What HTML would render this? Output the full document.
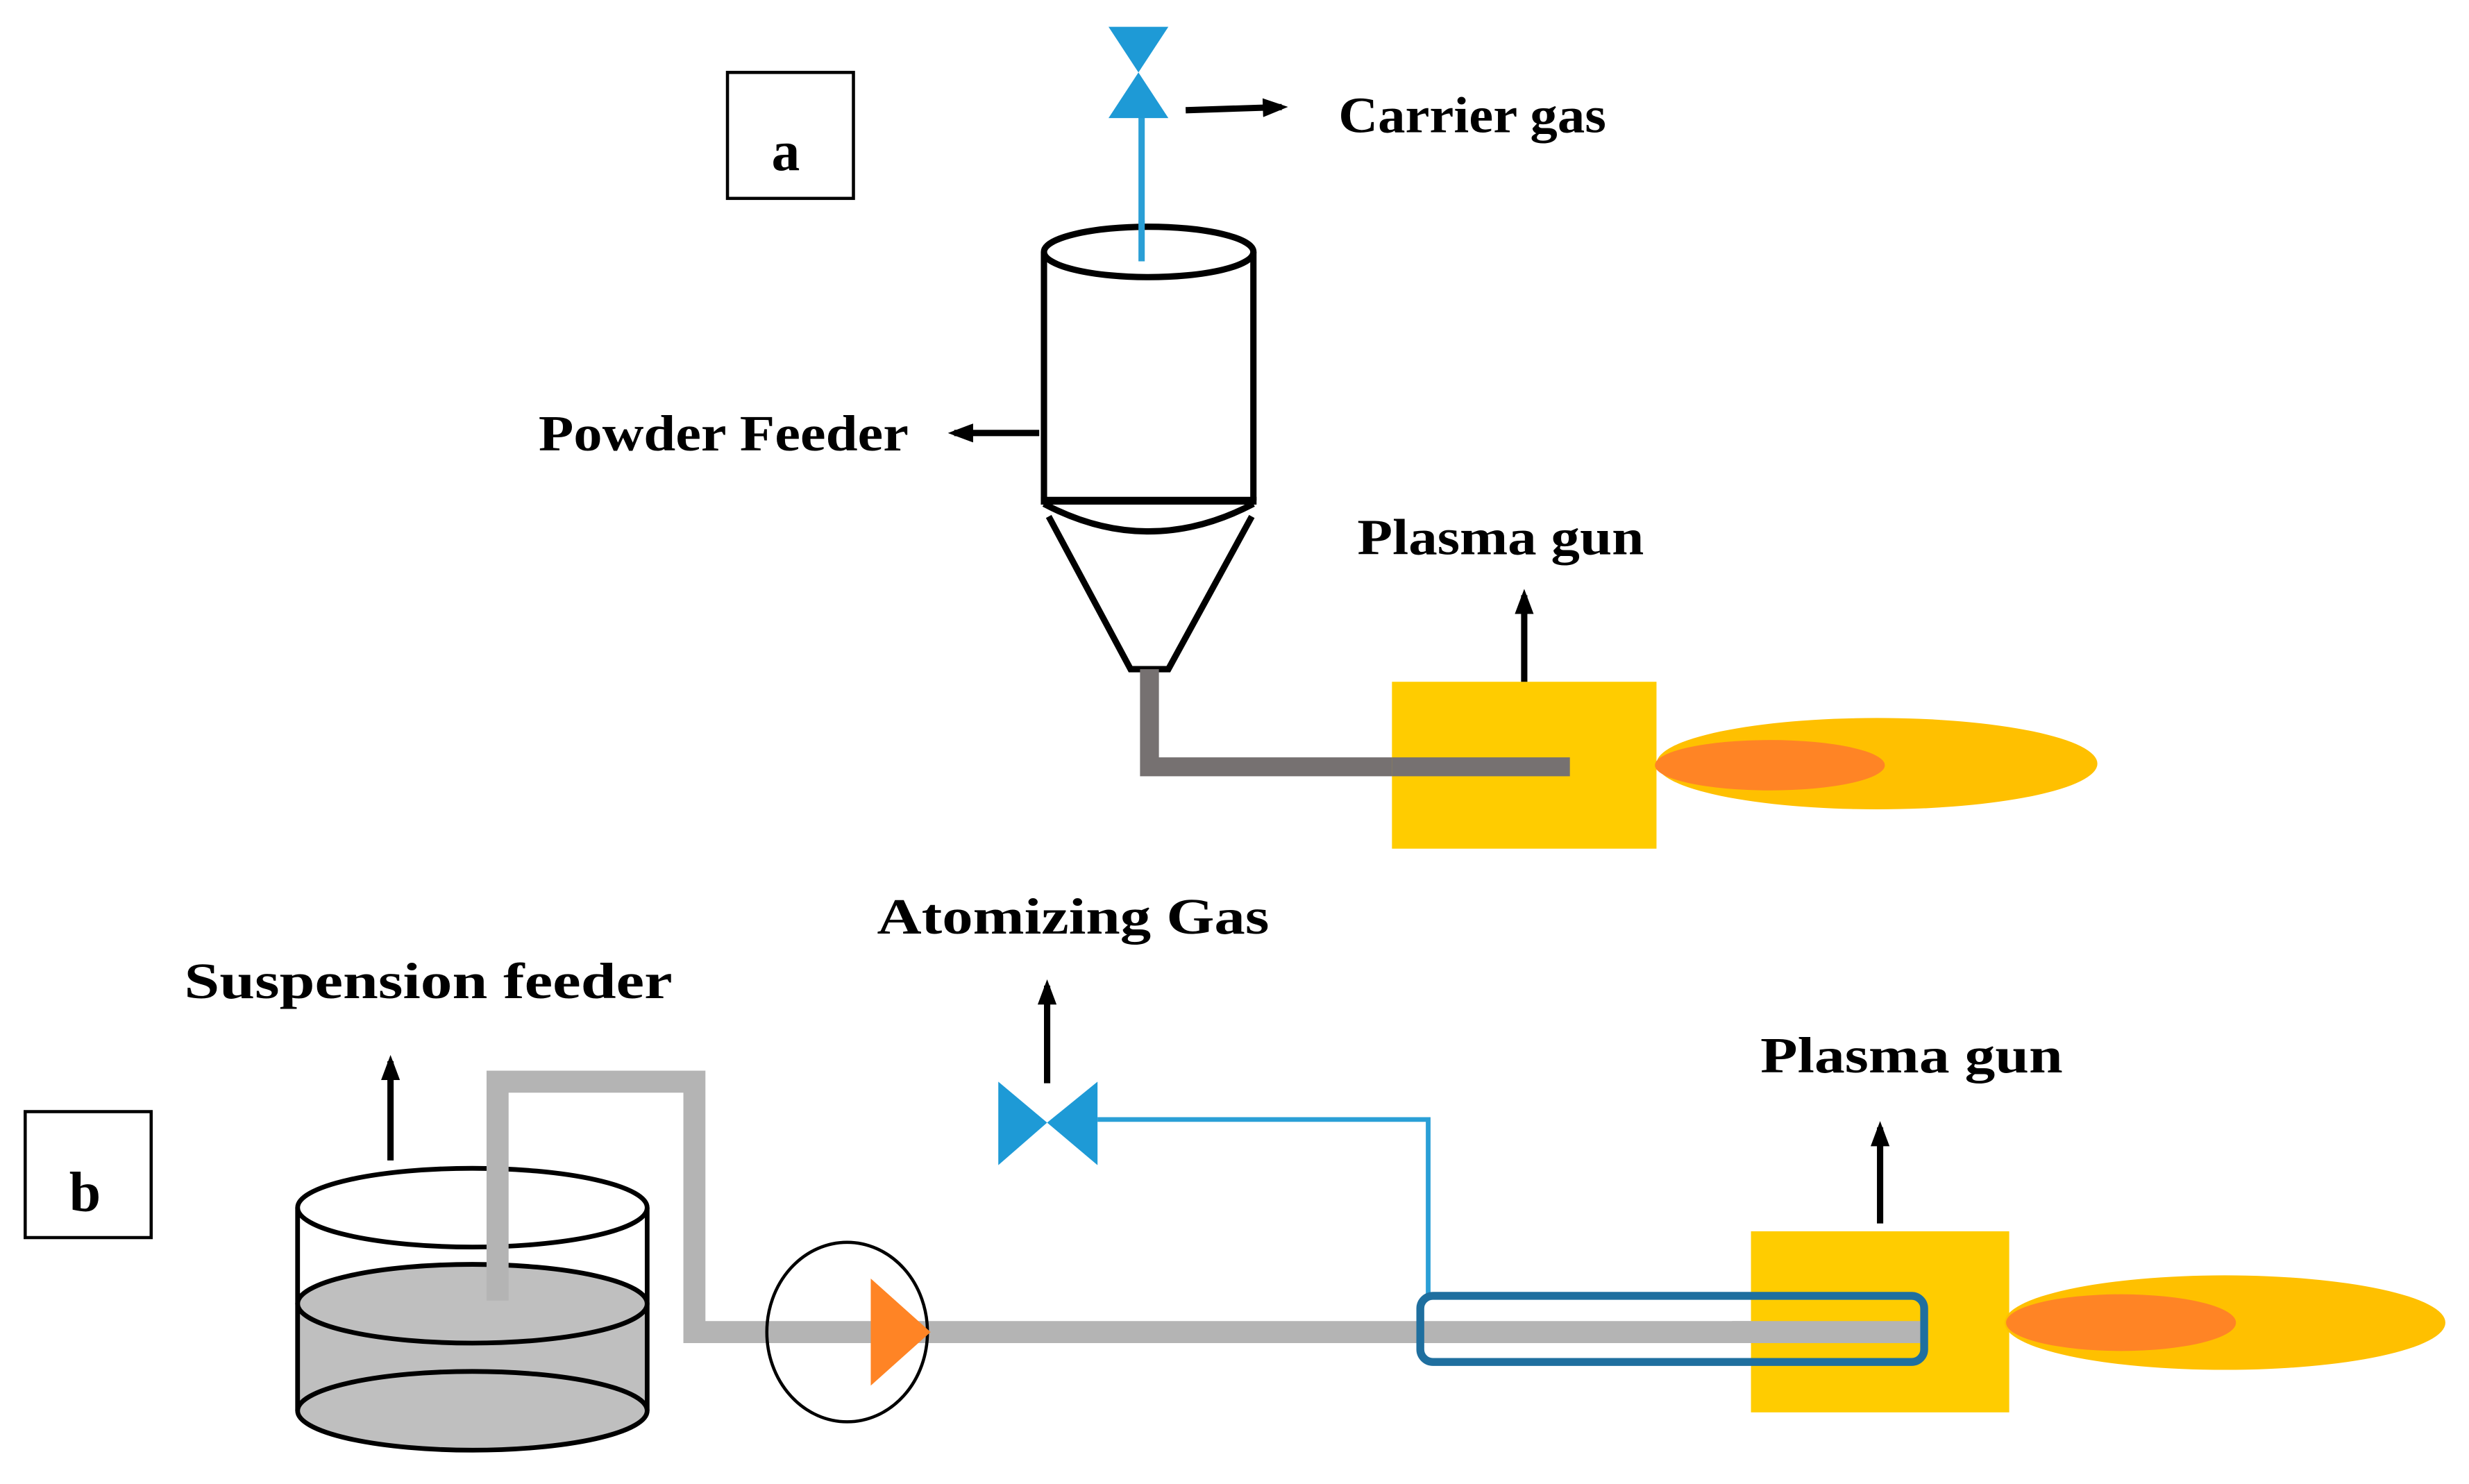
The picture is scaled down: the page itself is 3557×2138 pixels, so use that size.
<!DOCTYPE html>
<html><head><meta charset="utf-8"><style>
html,body{margin:0;padding:0;background:#fff;}
svg{display:block;}
text{font-family:"Liberation Serif",serif;font-weight:bold;fill:#000;}
</style></head><body>
<svg width="3557" height="2138" viewBox="0 0 1568 942.5" preserveAspectRatio="none" xmlns="http://www.w3.org/2000/svg">
<defs>
<marker id="ah" markerWidth="4" markerHeight="4" refX="3" refY="1.5" orient="auto" markerUnits="strokeWidth">
<path d="M0,0 L4,1.5 L0,3 z" fill="#000"/></marker>
</defs>
<!-- (a) -->
<rect x="462" y="46" width="80" height="80" fill="none" stroke="#000" stroke-width="2"/>
<text x="490" y="108" font-size="36">a</text>
<line x1="725" y1="60" x2="725" y2="166" stroke="#2a9fd6" stroke-width="4"/>
<polygon points="704,17 742,17 723,46" fill="#1e9ad6"/>
<polygon points="704,75 742,75 723,46" fill="#1e9ad6"/>
<line x1="753" y1="70" x2="814" y2="68" stroke="#000" stroke-width="4" marker-end="url(#ah)"/>
<text x="850" y="84" font-size="32" textLength="170" lengthAdjust="spacingAndGlyphs">Carrier gas</text>
<!-- feeder -->
<line x1="663" y1="160" x2="663" y2="318" stroke="#000" stroke-width="4"/>
<line x1="796" y1="160" x2="796" y2="318" stroke="#000" stroke-width="4"/>
<ellipse cx="729.5" cy="160" rx="66.5" ry="16" fill="#fff" stroke="#000" stroke-width="4"/>
<line x1="725" y1="140" x2="725" y2="166" stroke="#2a9fd6" stroke-width="4"/>
<line x1="661" y1="318" x2="798" y2="318" stroke="#000" stroke-width="5"/>
<path d="M663,320 Q729,355 796,320" fill="none" stroke="#000" stroke-width="4"/>
<path d="M666,328 L718,425 L742,425 L795,328" fill="none" stroke="#000" stroke-width="4"/>
<line x1="660" y1="275" x2="606" y2="275" stroke="#000" stroke-width="4" marker-end="url(#ah)"/>
<text x="342" y="286" font-size="32" textLength="235" lengthAdjust="spacingAndGlyphs">Powder Feeder</text>
<polyline points="730,425 730,487 997,487" fill="none" stroke="#767171" stroke-width="12"/>
<rect x="884" y="433" width="168" height="106" fill="#ffcc00"/>
<line x1="997" y1="487" x2="884" y2="487" stroke="#767171" stroke-width="12"/>
<line x1="968" y1="433" x2="968" y2="378" stroke="#000" stroke-width="4" marker-end="url(#ah)"/>
<text x="862" y="352" font-size="32" textLength="182" lengthAdjust="spacingAndGlyphs">Plasma gun</text>
<ellipse cx="1192" cy="485" rx="140" ry="29" fill="#ffc000"/>
<ellipse cx="1124" cy="486" rx="73" ry="16" fill="#ff8425"/>
<!-- (b) -->
<text x="557" y="593" font-size="32" textLength="249" lengthAdjust="spacingAndGlyphs">Atomizing Gas</text>
<line x1="665" y1="688" x2="665" y2="626" stroke="#000" stroke-width="4" marker-end="url(#ah)"/>
<polyline points="697,711 907,711 907,824" fill="none" stroke="#2a9fd6" stroke-width="3"/>
<polygon points="634,687 634,740 665,713" fill="#1e9ad6"/>
<polygon points="697,687 697,740 665,713" fill="#1e9ad6"/>
<text x="117" y="634" font-size="32" textLength="310" lengthAdjust="spacingAndGlyphs">Suspension feeder</text>
<line x1="248" y1="737" x2="248" y2="674" stroke="#000" stroke-width="4" marker-end="url(#ah)"/>
<rect x="16" y="706" width="80" height="80" fill="none" stroke="#000" stroke-width="2"/>
<text x="44" y="769" font-size="36">b</text>
<!-- container -->
<path d="M189,828 L189,896 A111,25 0 0 0 411,896 L411,828 z" fill="#bfbfbf"/>
<ellipse cx="300" cy="828" rx="111" ry="25" fill="#bfbfbf" stroke="#000" stroke-width="3"/>
<ellipse cx="300" cy="896" rx="111" ry="25" fill="#bfbfbf" stroke="#000" stroke-width="3"/>
<line x1="189" y1="767" x2="189" y2="896" stroke="#000" stroke-width="3"/>
<line x1="411" y1="767" x2="411" y2="896" stroke="#000" stroke-width="3"/>
<ellipse cx="300" cy="767" rx="111" ry="25" fill="none" stroke="#000" stroke-width="3"/>
<polyline points="316,826 316,687 441,687 441,846 1222,846" fill="none" stroke="#b4b4b4" stroke-width="14"/>
<ellipse cx="538" cy="846" rx="51" ry="57" fill="none" stroke="#000" stroke-width="2"/>
<polygon points="553,812 553,880 591,846" fill="#ff8425"/>
<rect x="1112" y="782" width="164" height="115" fill="#ffcc00"/>
<line x1="1100" y1="846" x2="1222" y2="846" stroke="#b4b4b4" stroke-width="14"/>
<rect x="902" y="823" width="320" height="42" rx="8" fill="none" stroke="#1f6f9f" stroke-width="5"/>
<line x1="1194" y1="777" x2="1194" y2="716" stroke="#000" stroke-width="4" marker-end="url(#ah)"/>
<text x="1118" y="681" font-size="32" textLength="192" lengthAdjust="spacingAndGlyphs">Plasma gun</text>
<ellipse cx="1413" cy="840" rx="140" ry="30" fill="#ffc000"/>
<ellipse cx="1347" cy="840" rx="73" ry="18" fill="#ff8425"/>
</svg>
</body></html>
